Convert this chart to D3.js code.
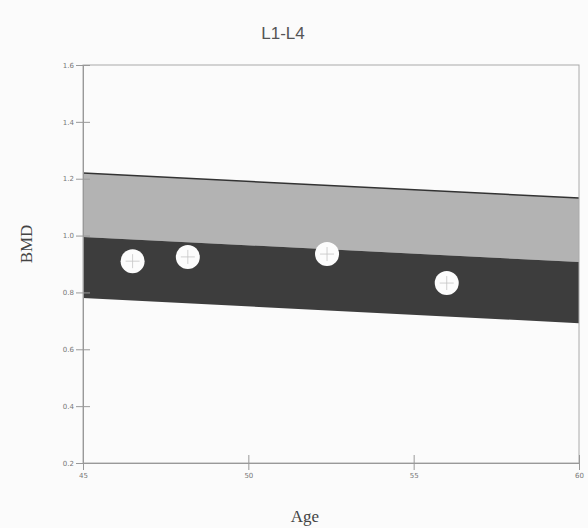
<!DOCTYPE html>
<html>
<head>
<meta charset="utf-8">
<script src="https://cdn.jsdelivr.net/npm/d3@7"></script>
<style>
  body { margin: 0; background: #fbfbfb; }
  svg { display: block; }
</style>
</head>
<body>
<div id="chart"></div>
<script>
// reference band (young adult mean +/- ranges), read at the two ends of the axis
var bandAges = [45, 60];
var bandTop = [1.22, 1.132];
var bandMid = [0.995, 0.907];
var bandLow = [0.78, 0.692];

// patient measurements
var pointAges = [46.5, 48.17, 52.38, 56.0];
var pointBmd = [0.91, 0.925, 0.935, 0.833];

var xTicks = [45, 50, 55, 60];
var yTicks = [0.2, 0.4, 0.6, 0.8, 1.0, 1.2, 1.4, 1.6];

var width = 588, height = 528;
var margin = {top: 65, right: 9, bottom: 65, left: 83};

var svg = d3.select("#chart").append("svg")
    .attr("width", width)
    .attr("height", height);

var x = d3.scaleLinear()
    .domain([45, 60])
    .range([margin.left, width - margin.right]);

var y = d3.scaleLinear()
    .domain([0.2, 1.6])
    .range([height - margin.bottom, margin.top]);

var bandRows = bandAges.map(function (a, i) {
    return {age: a, top: bandTop[i], mid: bandMid[i], low: bandLow[i]};
});

// light band: between top and mid
svg.append("path")
    .datum(bandRows)
    .attr("fill", "#b3b3b3")
    .attr("d", d3.area()
        .x(function (d) { return x(d.age); })
        .y0(function (d) { return y(d.mid); })
        .y1(function (d) { return y(d.top); }));

// dark band: between mid and low
svg.append("path")
    .datum(bandRows)
    .attr("fill", "#3d3d3d")
    .attr("d", d3.area()
        .x(function (d) { return x(d.age); })
        .y0(function (d) { return y(d.low); })
        .y1(function (d) { return y(d.mid); }));

svg.append("path")
    .datum(bandRows)
    .attr("fill", "none")
    .attr("stroke", "#333")
    .attr("stroke-width", 1.5)
    .attr("d", d3.line()
        .x(function (d) { return x(d.age); })
        .y(function (d) { return y(d.top); }));

// frame
svg.append("rect")
    .attr("x", x(45))
    .attr("y", y(1.6))
    .attr("width", x(60) - x(45))
    .attr("height", y(0.2) - y(1.6))
    .attr("fill", "none")
    .attr("stroke", "#aaa")
    .attr("stroke-width", 1);

// axes
var yAxis = svg.append("g")
    .attr("transform", "translate(" + x(45) + ",0)")
    .call(d3.axisLeft(y).tickValues(yTicks).tickSize(7)
        .tickFormat(function (d) { return d.toFixed(1); }));
yAxis.select(".domain").attr("stroke", "#999");
yAxis.selectAll(".tick line").attr("stroke", "#999").attr("x2", 7).attr("x1", -7);
yAxis.selectAll(".tick text")
    .attr("x", -9)
    .attr("fill", "#777")
    .style("font-family", "DejaVu Sans, sans-serif")
    .style("font-size", "7px");

var xAxis = svg.append("g")
    .attr("transform", "translate(0," + y(0.2) + ")")
    .call(d3.axisBottom(x).tickValues(xTicks).tickSize(7));
xAxis.select(".domain").attr("stroke", "#999");
xAxis.selectAll(".tick line").attr("stroke", "#999").attr("y1", -8).attr("y2", 7);
xAxis.selectAll(".tick text")
    .attr("y", 10)
    .attr("fill", "#777")
    .style("font-family", "DejaVu Sans, sans-serif")
    .style("font-size", "7px");

// points
var pts = svg.append("g").selectAll("g")
    .data(pointAges.map(function (a, i) { return {age: a, bmd: pointBmd[i]}; }))
    .join("g")
    .attr("transform", function (d) {
        return "translate(" + x(d.age) + "," + y(d.bmd) + ")";
    });
pts.append("circle")
    .attr("r", 12)
    .attr("fill", "#fcfcfc");
pts.append("path")
    .attr("d", "M-7,0H7M0,-7V7")
    .attr("stroke", "#c4c4c4")
    .attr("stroke-width", 0.8);

// labels
svg.append("text")
    .attr("x", 283)
    .attr("y", 39)
    .attr("text-anchor", "middle")
    .attr("fill", "#555")
    .style("font-family", "Liberation Sans, Arial, sans-serif")
    .style("font-size", "17px")
    .text("L1-L4");

svg.append("text")
    .attr("transform", "translate(32,244) rotate(-90)")
    .attr("text-anchor", "middle")
    .attr("fill", "#444")
    .style("font-family", "Liberation Serif, Times New Roman, serif")
    .style("font-size", "17px")
    .text("BMD");

svg.append("text")
    .attr("x", 305)
    .attr("y", 522)
    .attr("text-anchor", "middle")
    .attr("fill", "#444")
    .style("font-family", "Liberation Serif, Times New Roman, serif")
    .style("font-size", "17px")
    .text("Age");
</script>
</body>
</html>
